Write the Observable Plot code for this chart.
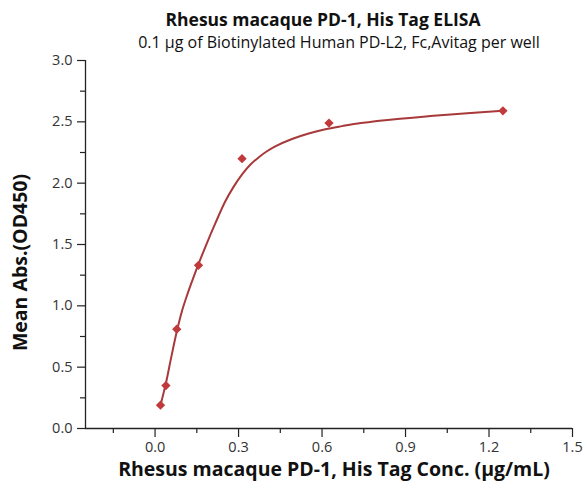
<!DOCTYPE html>
<html><head><meta charset="utf-8">
<script src="https://cdn.jsdelivr.net/npm/d3@7"></script>
<script src="https://cdn.jsdelivr.net/npm/@observablehq/plot@0.6"></script>
<style>body{margin:0;background:#fff} #chart{width:584px;height:494px}</style>
</head><body><div id="chart"></div><script>
// measured points
const conc = [0.0195, 0.039, 0.078, 0.156, 0.3125, 0.625, 1.25];
const absorb = [0.19, 0.35, 0.81, 1.33, 2.20, 2.49, 2.59];
// fitted curve
const fitX = [0.0195, 0.039, 0.058, 0.078, 0.097, 0.117, 0.136, 0.156, 0.186, 0.216, 0.252, 0.282, 0.312, 0.342, 0.372, 0.402, 0.432, 0.492, 0.552, 0.612, 0.672, 0.74, 0.88, 1.05, 1.25];
const fitY = [0.19, 0.37, 0.58, 0.79, 0.96, 1.10, 1.22, 1.34, 1.51, 1.67, 1.85, 1.97, 2.07, 2.15, 2.21, 2.26, 2.30, 2.36, 2.405, 2.44, 2.465, 2.49, 2.525, 2.558, 2.59];
// ticks
const xTicks = [0, 0.3, 0.6, 0.9, 1.2, 1.5];
const xMinor = [-0.15, 0.15, 0.45, 0.75, 1.05, 1.35];
const yTicks = [0, 0.5, 1.0, 1.5, 2.0, 2.5, 3.0];
const yMinor = [0.25, 0.75, 1.25, 1.75, 2.25, 2.75];
const title = "Rhesus macaque PD-1, His Tag ELISA";
const subtitle = "0.1 \u03bcg of Biotinylated Human PD-L2, Fc,Avitag per well";
const xLabel = "Rhesus macaque PD-1, His Tag Conc. (\u03bcg/mL)";
const yLabel = "Mean Abs.(OD450)";

const points = conc.map((c, i) => ({x: c, y: absorb[i]}));
const fit = fitX.map((c, i) => ({x: c, y: fitY[i]}));
const fmt = d3.format(".1f");
const axisColor = "#222";

const chart = Plot.plot({
  width: 584, height: 494,
  marginLeft: 85, marginRight: 12, marginTop: 60, marginBottom: 66,
  style: {fontFamily: "'Open Sans', sans-serif", background: "#fff", overflow: "visible"},
  x: {domain: [-0.25, 1.5]},
  y: {domain: [0, 3]},
  marks: [
    Plot.axisX({ticks: xMinor, tickSize: 5, text: null, label: null, stroke: axisColor, strokeWidth: 1.2}),
    Plot.axisX({ticks: xTicks, tickSize: 9, tickPadding: 4, tickFormat: fmt, label: null, fontSize: 14.5, stroke: axisColor, fill: "#333", strokeWidth: 1.2}),
    Plot.axisY({ticks: yMinor, tickSize: 5, text: null, label: null, stroke: axisColor, strokeWidth: 1.2}),
    Plot.axisY({ticks: yTicks, tickSize: 8, tickPadding: 5, tickFormat: fmt, label: null, fontSize: 14.5, stroke: axisColor, fill: "#333", strokeWidth: 1.2}),
    Plot.ruleY([0], {stroke: axisColor, strokeWidth: 1.3}),
    Plot.ruleX([-0.25], {stroke: axisColor, strokeWidth: 1.3}),
    Plot.line(fit, {x: "x", y: "y", curve: "catmull-rom", stroke: "#a8393b", strokeWidth: 2}),
    Plot.dot(points, {x: "x", y: "y", symbol: "diamond2", r: 4.2, fill: "#c0393b", stroke: "none"}),
    Plot.text([title], {text: d => d, frameAnchor: "top", lineAnchor: "middle", dx: -6, dy: -40, fontSize: 17.5, fontWeight: "bold", fill: "#111"}),
    Plot.text([subtitle], {text: d => d, frameAnchor: "top", lineAnchor: "middle", dx: 10, dy: -18, fontSize: 16, fill: "#111"}),
    Plot.text([xLabel], {text: d => d, frameAnchor: "bottom", lineAnchor: "middle", dx: 5, dy: 41, fontSize: 19.5, fontWeight: "bold", fill: "#111"}),
    Plot.text([yLabel], {text: d => d, frameAnchor: "left", textAnchor: "middle", lineAnchor: "middle", dx: -65, dy: 18, rotate: -90, fontSize: 19.5, fontWeight: "bold", fill: "#111"})
  ]
});
document.getElementById("chart").appendChild(chart);
</script></body></html>
